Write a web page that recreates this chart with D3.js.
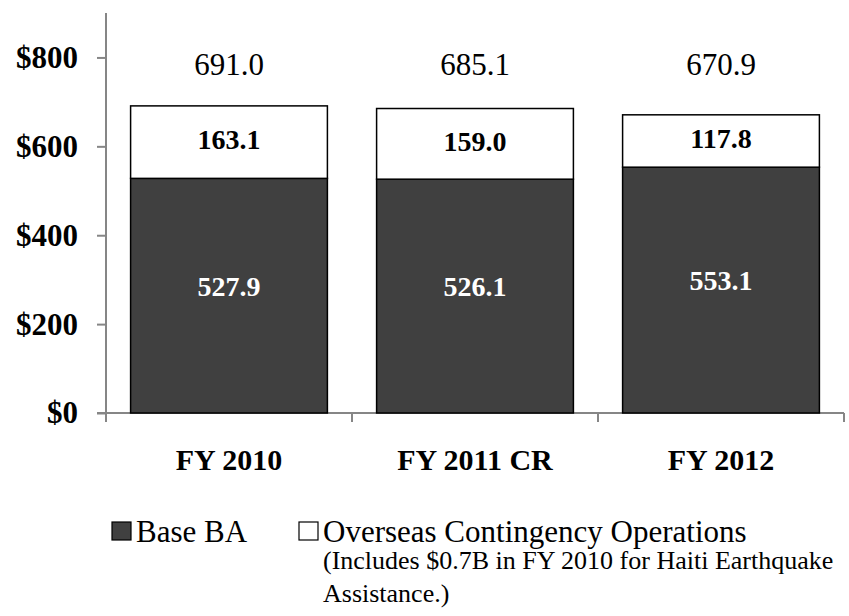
<!DOCTYPE html>
<html>
<head>
    <meta charset="utf-8">
    <title>Base BA and OCO, FY 2010 - FY 2012</title>
    <style>
        body {
            margin: 0;
            background: #fff;
            font-family: "Liberation Serif", "Times New Roman", serif;
        }
    </style>
</head>
<body>
    <script src="https://d3js.org/d3.v7.min.js"></script>
    <script>
        // Data ($B)
        var categories = ["FY 2010", "FY 2011 CR", "FY 2012"];
        var baseBA = [527.9, 526.1, 553.1];
        var oco = [163.1, 159.0, 117.8];
        var totals = [691.0, 685.1, 670.9];
        var yTicks = [0, 200, 400, 600, 800];
        var legendLabels = ["Base BA", "Overseas Contingency Operations"];
        var legendNote = ["(Includes $0.7B in FY 2010 for Haiti Earthquake", "Assistance.)"];

        var width = 849, height = 616;
        var darkFill = "#404040";
        var axisColor = "#868686";

        var svg = d3.select("body").append("svg")
            .attr("width", width)
            .attr("height", height);

        var x = d3.scaleBand()
            .domain(categories)
            .range([106, 844])
            .paddingInner(0.2)
            .paddingOuter(0.1);

        var y = d3.scaleLinear()
            .domain([0, 900])
            .range([413, 13]);

        // Axes
        var yAxis = svg.append("g")
            .attr("transform", "translate(106,0)")
            .call(d3.axisLeft(y).tickValues(yTicks).tickSize(9).tickPadding(19)
                .tickFormat(function(d) { return "$" + d; }));
        yAxis.select(".domain").attr("d", "M0," + y(900) + "V" + (y(0) + 9));

        var xAxis = svg.append("g")
            .attr("transform", "translate(0," + y(0) + ")");
        xAxis.append("line")
            .attr("x1", 97).attr("x2", 844)
            .attr("stroke", axisColor).attr("stroke-width", 2);
        var bounds = [106].concat(categories.map(function(c) { return x(c) + x.bandwidth() + x.step() * 0.1; }));
        xAxis.selectAll("line.tick")
            .data(bounds.slice(1))
            .enter().append("line")
            .attr("class", "tick")
            .attr("x1", d => d).attr("x2", d => d)
            .attr("y1", 0).attr("y2", 9)
            .attr("stroke", axisColor).attr("stroke-width", 2);

        yAxis.selectAll("line, path").attr("stroke", axisColor).attr("stroke-width", 2);
        yAxis.selectAll("text")
            .attr("font-family", "Liberation Serif")
            .attr("font-size", 31)
            .attr("font-weight", "bold")
            .attr("fill", "#000");

        // Category labels
        svg.append("g").selectAll("text")
            .data(categories)
            .enter().append("text")
            .attr("x", d => x(d) + x.bandwidth() / 2)
            .attr("y", 470)
            .attr("text-anchor", "middle")
            .attr("font-size", 30)
            .attr("font-weight", "bold")
            .text(d => d);

        // Bars
        var bars = svg.append("g");
        bars.selectAll("rect.base")
            .data(baseBA)
            .enter().append("rect")
            .attr("class", "base")
            .attr("x", (d, i) => x(categories[i]))
            .attr("width", x.bandwidth())
            .attr("y", d => y(d))
            .attr("height", d => y(0) - y(d))
            .attr("fill", darkFill)
            .attr("stroke", "#000")
            .attr("stroke-width", 1.5);

        bars.selectAll("rect.oco")
            .data(oco)
            .enter().append("rect")
            .attr("class", "oco")
            .attr("x", (d, i) => x(categories[i]))
            .attr("width", x.bandwidth())
            .attr("y", (d, i) => y(baseBA[i] + d))
            .attr("height", (d, i) => y(baseBA[i]) - y(baseBA[i] + d))
            .attr("fill", "#fff")
            .attr("stroke", "#000")
            .attr("stroke-width", 1.5);

        // Segment labels
        bars.selectAll("text.base")
            .data(baseBA)
            .enter().append("text")
            .attr("class", "base")
            .attr("x", (d, i) => x(categories[i]) + x.bandwidth() / 2)
            .attr("y", d => (y(0) + y(d)) / 2)
            .attr("dy", "0")
            .attr("text-anchor", "middle")
            .attr("font-size", 28)
            .attr("font-weight", "bold")
            .attr("fill", "#fff")
            .text(d => d.toFixed(1));

        bars.selectAll("text.oco")
            .data(oco)
            .enter().append("text")
            .attr("class", "oco")
            .attr("x", (d, i) => x(categories[i]) + x.bandwidth() / 2)
            .attr("y", (d, i) => (y(baseBA[i]) + y(baseBA[i] + d)) / 2 + 7)
            .attr("text-anchor", "middle")
            .attr("font-size", 28)
            .attr("font-weight", "bold")
            .text(d => d.toFixed(1));

        // Totals above the bars
        svg.append("g").selectAll("text")
            .data(totals)
            .enter().append("text")
            .attr("x", (d, i) => x(categories[i]) + x.bandwidth() / 2)
            .attr("y", y(760))
            .attr("text-anchor", "middle")
            .attr("font-size", 31)
            .text(d => d.toFixed(1));

        // Legend
        var legend = svg.append("g");
        var legendX = [112, 299];
        var legendFill = [darkFill, "#fff"];
        legendLabels.forEach(function(label, i) {
            legend.append("rect")
                .attr("x", legendX[i]).attr("y", 522)
                .attr("width", 19).attr("height", 18)
                .attr("fill", legendFill[i])
                .attr("stroke", "#000").attr("stroke-width", 1.2);
            legend.append("text")
                .attr("x", legendX[i] + 24).attr("y", 542)
                .attr("font-size", 31)
                .text(label);
        });
        legend.selectAll("text.note")
            .data(legendNote)
            .enter().append("text")
            .attr("class", "note")
            .attr("x", 323)
            .attr("y", (d, i) => 569 + i * 33)
            .attr("font-size", 26)
            .text(d => d);
    </script>
</body>
</html>
